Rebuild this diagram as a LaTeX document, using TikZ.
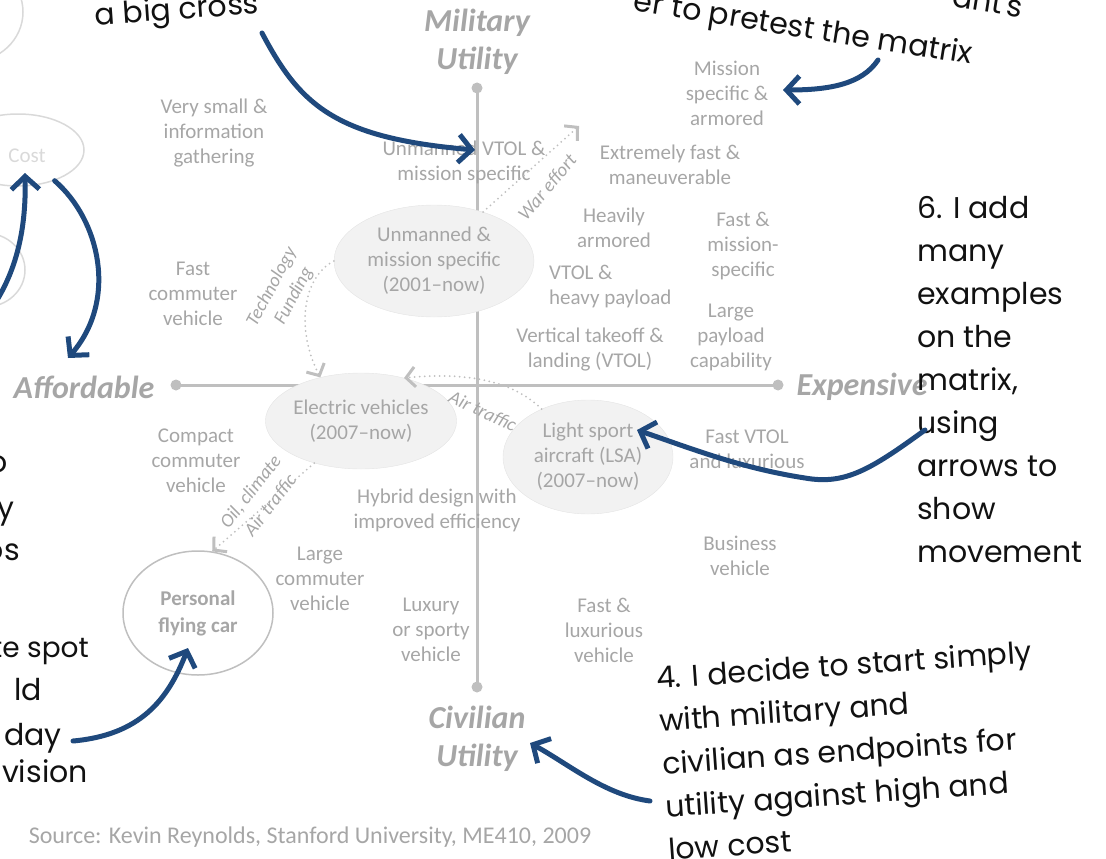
\documentclass[tikz,border=0pt]{standalone}
\usepackage{fontspec}
\setmainfont{Carlito}
\newfontfamily\handfont{Poppins}
\usetikzlibrary{arrows.meta,shapes.geometric}
\definecolor{Ink}{HTML}{111111}
\definecolor{NoteBlue}{HTML}{1F497D}
\definecolor{Label}{HTML}{A6A6A6}
\definecolor{AxisLine}{HTML}{BFBFBF}
\definecolor{Bubble}{HTML}{F2F2F2}
\definecolor{BubbleEdge}{HTML}{E4E4E4}
\definecolor{Faint}{HTML}{D9D9D9}

\begin{document}
\begin{tikzpicture}[
  x=1pt,y=-1pt,
  lbl/.style={text=Label,align=center,inner sep=0pt,font=\fontsize{21}{25}\selectfont},
  axislbl/.style={text=Label,align=center,inner sep=0pt,font=\fontsize{32}{38}\selectfont\bfseries\itshape},
  flowlbl/.style={text=Label,inner sep=0pt,font=\fontsize{19}{20}\selectfont\itshape},
  bubble/.style={ellipse,fill=Bubble,draw=BubbleEdge,inner sep=0pt,text=Label,align=center,font=\fontsize{21}{25}\selectfont},
  ring/.style={ellipse,draw=AxisLine,line width=1.5pt,inner sep=0pt,text=Label,align=center},
  axisdot/.style={circle,fill=AxisLine,inner sep=0pt,minimum size=11pt},
  axisline/.style={draw=AxisLine,line width=3pt},
  drift/.style={draw=AxisLine,line width=2pt,line cap=round,dash pattern=on 0pt off 5pt,-{Straight Barb[length=9pt,width=20pt,line width=3pt]}},
  note/.style={text=Ink,inner sep=0pt,align=left,font=\handfont\fontsize{30}{43}\selectfont},
  frag/.style={note,anchor=east,text height=22pt,text depth=8pt},
  callout/.style={draw=NoteBlue,line width=5pt,line cap=round,-{Straight Barb[length=13pt,width=28pt]}}
]
\useasboundingbox (0,0) rectangle (1106,859);
\clip (0,0) rectangle (1106,859);

% axes
\node[axisdot] (axN) at (477,88) {};
\node[axisdot] (axS) at (477,687) {};
\node[axisdot] (axW) at (176,385) {};
\node[axisdot] (axE) at (778,385) {};
\draw[axisline] (axN.center) -- (axS.center);
\draw[axisline] (axW.center) -- (axE.center);
\node[axislbl] (mil) at (477,42) {Military\\Utility};
\node[axislbl] (civ) at (477,739) {Civilian\\Utility};
\node[axislbl] (aff) at (84,387) {Affordable};
\node[axislbl] (expn) at (862,387) {Expensive};

% faint shapes at the left edge
\node[ring,draw=Faint] (blobA) [minimum width=106pt,minimum height=100pt] at (-30,12) {};
\node[ring,draw=Faint] (blobB) [minimum width=80pt,minimum height=74pt] at (-15,270) {};
\node[ring,draw=Faint] (cost) [minimum width=132pt,minimum height=72pt] at (18,150) {};
\node[lbl,text=Faint] (costlbl) at (27,156) {Cost};

% bubbles
\node[bubble,minimum width=200pt,minimum height=112pt] (uav) at (434,261) {Unmanned \&\\mission specific\\(2001--now)};
\node[bubble,minimum width=180pt,minimum height=96pt] (ev) at (361,421) {Electric vehicles\\(2007--now)};
\node[bubble,minimum width=170pt,minimum height=114pt] (lsa) at (588,457) {Light sport\\aircraft (LSA)\\(2007--now)};
\node[ring,minimum width=150pt,minimum height=124pt,font=\fontsize{21}{27}\selectfont\bfseries] (pfc) at (198,613) {Personal\\flying car};

% examples on the matrix
\node[lbl] (small) at (214,133) {Very small \&\\information\\gathering};
\node[lbl] (uvtol) at (464,162) {Unmanned VTOL \&\\mission specific};
\node[lbl] (mission) at (727,93) {Mission\\specific \&\\armored};
\node[lbl] (fastman) at (670,165) {Extremely fast \&\\maneuverable};
\node[lbl] (heavy) at (614,228) {Heavily\\armored};
\node[lbl] (fastmis) at (743,246) {Fast \&\\mission-\\specific};
\node[lbl,align=left,anchor=west] (vtolpay) at (549,287) {VTOL \&\\heavy payload};
\node[lbl] (payload) at (731,337) {Large\\payload\\capability};
\node[lbl] (vtol) at (590,350) {Vertical takeoff \&\\landing (VTOL)};
\node[lbl] (fastcom) at (193,294) {Fast\\commuter\\vehicle};
\node[lbl] (compact) at (196,461) {Compact\\commuter\\vehicle};
\node[lbl] (hybrid) at (437,510) {Hybrid design with\\improved efficiency};
\node[lbl] (fastlux) at (747,449) {Fast VTOL\\and luxurious};
\node[lbl] (largecom) at (320,579) {Large\\commuter\\vehicle};
\node[lbl] (business) at (740,556) {Business\\vehicle};
\node[lbl] (luxury) at (431,630) {Luxury\\or sporty\\vehicle};
\node[lbl] (fastveh) at (604,630) {Fast \&\\luxurious\\vehicle};
\node[lbl,font=\fontsize{24}{28}\selectfont] (source) at (310,837) {Source: Kevin Reynolds, Stanford University, ME410, 2009};

% movement between bubbles
\coordinate (warTip) at (579,126);
\draw[drift] (uav.45) -- (warTip);
\draw[drift] (uav.west) .. controls (302,278) and (296,330) .. (ev.133);
\draw[drift] (lsa.134) .. controls (512,380) and (465,372) .. (ev.45);
\draw[drift] (ev.222) -- (pfc.77);
\node[flowlbl,rotate=50] (warlbl) at (547,187) {War effort};
\node[flowlbl,rotate=62] (techlbl) at (272,287) {Technology};
\node[flowlbl,rotate=62] (fundlbl) at (294,296) {Funding};
\node[flowlbl,rotate=-25] (airlbl) at (483,411) {Air traffic};
\node[flowlbl,rotate=52] (oillbl) at (251,492) {Oil, climate};
\node[flowlbl,rotate=52] (air2lbl) at (270,505) {Air traffic};

% handwritten notes
\node[note,rotate=4] (noteCross) at (177,12) {a big cross};
\node[note,rotate=-9,anchor=east] (noteAnt) at (1023,6) {ant's};
\node[note,rotate=-9] (notePretest) at (803,30) {er to pretest the matrix};
\node[note,anchor=west] (noteSix) at (917,380) {6. I add\\many\\examples\\on the\\matrix,\\using\\arrows to\\show\\movement};
\node[note,rotate=4] (noteFour) at (850,750) {4. I decide to start simply\\with military and\\civilian as endpoints for\\utility against high and\\low cost};
\node[frag] (fragA) at (8,465) {o};
\node[frag] (fragB) at (15,511) {y};
\node[frag] (fragC) at (20,553) {os};
\node[frag,font=\handfont\fontsize{28}{43}\selectfont] (fragD) at (89,650) {te spot};
\node[frag] (fragE) at (42,693) {ld};
\node[frag] (fragF) at (62,738) {day};
\node[frag] (fragG) at (88,775) {vision};

% callout arrows
\coordinate (crossTail) at (262,33);
\coordinate (missionTail) at (878,60);
\coordinate (lsaTail) at (925,430);
\coordinate (carTail) at (73,741);
\coordinate (civTail) at (650,801);
\coordinate (costUpTail) at (-3,300);
\draw[callout] (crossTail) .. controls (300,105) and (335,138) .. ([xshift=11pt,yshift=12pt]uvtol.center);
\draw[callout] (missionTail) .. controls (862,84) and (830,90) .. ([xshift=56pt,yshift=3pt]mission.center);
\draw[callout] (lsaTail) .. controls (870,470) and (845,485) .. (805,478) .. controls (740,468) and (690,448) .. ([xshift=49pt,yshift=27pt]lsa.center);
\draw[callout] (carTail) .. controls (140,735) and (168,700) .. ([xshift=-10pt,yshift=-35pt]pfc.center);
\draw[callout] (civTail) .. controls (605,795) and (570,765) .. ([xshift=53pt,yshift=-4pt]civ.center);
\draw[callout] (costUpTail) .. controls (20,262) and (26,220) .. ([xshift=7pt,yshift=-23pt]cost.center);
\draw[callout] (cost.-40) .. controls (100,220) and (118,300) .. ([xshift=-16pt,yshift=29pt]aff.center);
\end{tikzpicture}
\end{document}
